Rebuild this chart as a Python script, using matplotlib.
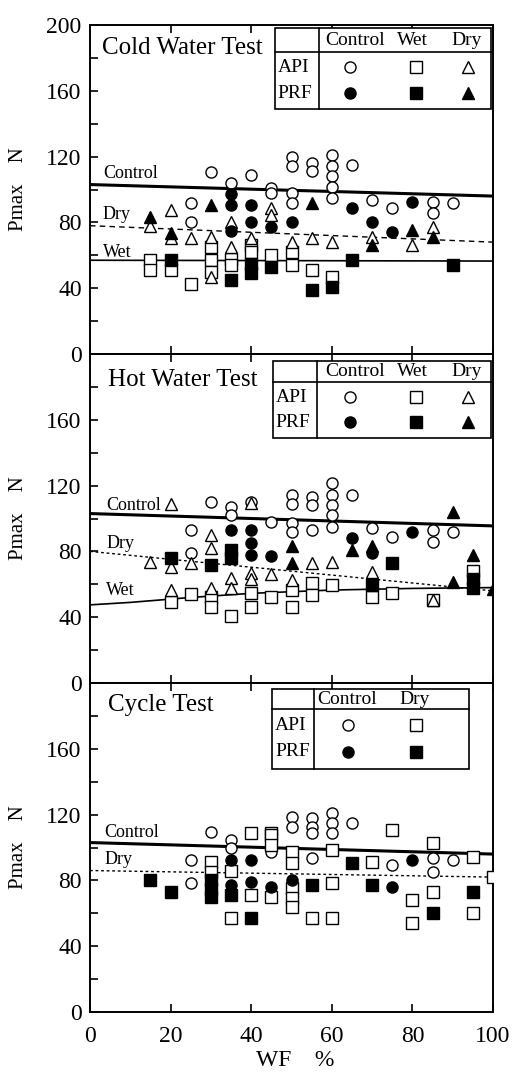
import matplotlib
matplotlib.use('Agg')
import matplotlib.pyplot as plt
import matplotlib as mpl
from matplotlib.patches import Rectangle
from matplotlib.ticker import MultipleLocator

mpl.rcParams['font.family'] = ['Liberation Serif', 'DejaVu Serif']
mpl.rcParams['axes.linewidth'] = 1.4

# ---------------- Cold Water Test ----------------
cold_api_ctrl_x = [25, 25, 30, 35, 40, 45, 45, 50, 50, 50, 50, 55, 55, 60, 60, 60, 60, 60, 65, 70, 75, 85, 85, 90]
cold_api_ctrl_y = [92, 80, 110.5, 104, 109, 101, 98, 120, 114, 98, 92, 116, 111, 121, 114, 108, 101.5, 95, 115, 93.5, 89, 92.5, 86, 92]
cold_prf_ctrl_x = [35, 35, 35, 40, 40, 45, 50, 65, 70, 75, 80]
cold_prf_ctrl_y = [97, 90.5, 75, 90.5, 80, 77, 80, 89, 80, 74, 92.5]
cold_api_wet_x = [15, 15, 20, 25, 30, 30, 30, 35, 35, 40, 40, 45, 50, 50, 55, 60]
cold_api_wet_y = [57, 51, 51, 42.5, 65, 57, 50, 58, 54, 66, 62, 60, 62, 54, 51, 47]
cold_prf_wet_x = [20, 35, 40, 40, 45, 55, 60, 65, 90]
cold_prf_wet_y = [57, 45, 55, 49, 53, 39, 41, 57, 54]
cold_api_dry_x = [15, 20, 20, 25, 30, 30, 35, 35, 40, 45, 45, 50, 55, 60, 70, 80, 85]
cold_api_dry_y = [78, 87.5, 70.5, 70.5, 71, 47, 80, 65, 70.5, 89, 84.5, 68, 70.5, 68, 71, 66, 77]
cold_prf_dry_x = [15, 20, 30, 55, 70, 80, 85]
cold_prf_dry_y = [83, 73.5, 90.5, 92, 66, 75.5, 71]
cold_ctrl_line = ([0, 100], [103, 96])
cold_dry_line = ([0, 100], [78, 68])
cold_wet_line = ([0, 100], [57, 56.5])

# ---------------- Hot Water Test ----------------
hot_api_ctrl_x = [25, 25, 30, 35, 35, 40, 45, 50, 50, 50, 50, 55, 55, 55, 60, 60, 60, 60, 60, 65, 70, 75, 85, 85, 90]
hot_api_ctrl_y = [93, 79, 110, 107, 102, 110, 98, 114, 109, 97.5, 92, 113, 108, 93, 121.5, 114, 108, 102, 95, 114, 94, 89, 93, 86, 92]
hot_prf_ctrl_x = [35, 40, 40, 40, 45, 65, 70, 80]
hot_prf_ctrl_y = [93, 93, 85, 78, 77, 88, 79, 92]
hot_api_wet_x = [20, 25, 30, 30, 35, 40, 40, 45, 50, 50, 55, 55, 60, 70, 75, 85, 95]
hot_api_wet_y = [49, 54, 52, 46, 41, 55, 46, 52, 56.5, 46, 61, 53.5, 59.5, 52, 54.5, 50.5, 68]
hot_prf_wet_x = [20, 30, 35, 35, 70, 75, 95, 95]
hot_prf_wet_y = [76, 71.5, 81, 76, 59.5, 73, 63, 58]
hot_api_dry_x = [15, 20, 20, 20, 25, 30, 30, 30, 35, 35, 40, 40, 40, 45, 50, 55, 60, 70, 85]
hot_api_dry_y = [73.5, 109, 70.5, 56.5, 73, 90, 82, 58, 64, 58, 109.5, 67, 63, 66, 62.5, 73, 73.5, 67.5, 50.5]
hot_prf_dry_x = [50, 50, 65, 70, 90, 90, 95, 100]
hot_prf_dry_y = [83, 73, 81, 83, 104, 61.5, 78, 57]
hot_ctrl_line = ([0, 100], [103, 95.5])
hot_dry_line = ([0, 100], [80, 56])
hot_wet_line = ([0, 10, 25, 40, 60, 80, 100], [47.5, 49, 52, 54.5, 56.5, 57.5, 58])

# ---------------- Cycle Test ----------------
cyc_api_ctrl_x = [25, 25, 30, 35, 35, 45, 50, 50, 55, 55, 55, 55, 60, 60, 60, 65, 75, 85, 85, 90]
cyc_api_ctrl_y = [92.5, 78.5, 109.5, 104.5, 100, 97, 118.5, 112.5, 118, 112.5, 109, 93.5, 121, 115, 109, 115, 89.5, 93.5, 85, 92.5]
cyc_prf_ctrl_x = [35, 35, 40, 40, 45, 50, 75, 80]
cyc_prf_ctrl_y = [92.5, 77, 92.5, 79, 76, 80, 76, 92.5]
cyc_api_dry_x = [30, 30, 35, 35, 40, 40, 45, 45, 45, 45, 50, 50, 50, 50, 50, 55, 60, 60, 60, 70, 75, 80, 80, 85, 85, 95, 95, 100]
cyc_api_dry_y = [91, 85, 86, 57, 109, 71, 109, 107.5, 101.5, 70, 97, 90.5, 75.5, 69, 64, 57, 98.5, 78.5, 57, 91, 110.5, 68, 54, 102.5, 73, 94, 60, 82]
cyc_prf_dry_x = [15, 20, 30, 30, 30, 35, 40, 55, 65, 70, 85, 95]
cyc_prf_dry_y = [80, 73, 80, 75, 70, 71, 57, 77, 90.5, 77, 60, 73]
cyc_ctrl_line = ([0, 100], [103, 96])
cyc_dry_line = ([0, 100], [86, 82])

xticks = [0, 20, 40, 60, 80, 100]
yticks = [0, 40, 80, 120, 160, 200]

ms = 8
mew = 1.0


def scatter(ax, x, y, marker, filled):
    ax.plot(x, y, linestyle='none', marker=marker, markersize=ms, markeredgewidth=mew,
            markeredgecolor='black', markerfacecolor='black' if filled else 'white', zorder=3)


def draw_table(ax, x0, x1, y0, y1, yh, xd, headers, hx, markers, mx):
    ax.add_patch(Rectangle((x0, y0), x1 - x0, y1 - y0, facecolor='white', edgecolor='black',
                           lw=1.2, zorder=5, clip_on=False))
    ax.plot([x0, x1], [yh, yh], color='black', lw=1.2, zorder=6, clip_on=False)
    ax.plot([xd, xd], [y0, y1], color='black', lw=1.2, zorder=6, clip_on=False)
    for h, x in zip(headers, hx):
        ax.text(x, (yh + y1) / 2, h, ha='center', va='center', fontsize=14, zorder=7)
    ry = [yh - (yh - y0) * 0.27, yh - (yh - y0) * 0.72]
    ax.text(x0 + 0.7, ry[0], 'API', ha='left', va='center', fontsize=14, zorder=7)
    ax.text(x0 + 0.7, ry[1], 'PRF', ha='left', va='center', fontsize=14, zorder=7)
    for m, x in zip(markers, mx):
        ax.plot([x], [ry[0]], marker=m, markersize=ms, markeredgewidth=mew, markeredgecolor='black',
                markerfacecolor='white', linestyle='none', zorder=7, clip_on=False)
        ax.plot([x], [ry[1]], marker=m, markersize=ms, markeredgewidth=mew, markeredgecolor='black',
                markerfacecolor='black', linestyle='none', zorder=7, clip_on=False)


def setup_axes(ax, show_x, show_200):
    ax.set_xlim(0, 100)
    ax.set_ylim(0, 200)
    ax.set_xticks(xticks)
    ax.set_yticks(yticks)
    ax.set_yticklabels([str(t) if (t != 200 or show_200) else '' for t in yticks])
    ax.yaxis.set_minor_locator(MultipleLocator(20))
    ax.tick_params(which='both', direction='in', top=True, bottom=True, left=True, right=False,
                   length=6, width=1.2, labelsize=17)
    ax.tick_params(axis='y', pad=6)
    ax.tick_params(axis='x', pad=10, labelbottom=show_x)
    ax.set_ylabel('Pmax    N', fontsize=15)
    ax.yaxis.set_label_coords(-0.155, 0.5)


fig = plt.figure(figsize=(5.12, 10.74), dpi=100)
left, width = 90 / 512, 403 / 512
h = 329 / 1074
ax1 = fig.add_axes([left, 1 - 354 / 1074, width, h])
ax2 = fig.add_axes([left, 1 - 683 / 1074, width, h])
ax3 = fig.add_axes([left, 1 - 1012 / 1074, width, h])

# panel 1
ax = ax1
ax.plot(*cold_ctrl_line, color='black', lw=2.2, zorder=1)
ax.plot(*cold_dry_line, color='black', lw=1.0, ls=(0, (4, 3)), zorder=1)
ax.plot(*cold_wet_line, color='black', lw=1.2, zorder=1)
scatter(ax, cold_api_ctrl_x, cold_api_ctrl_y, 'o', False)
scatter(ax, cold_api_wet_x, cold_api_wet_y, 's', False)
scatter(ax, cold_api_dry_x, cold_api_dry_y, '^', False)
scatter(ax, cold_prf_ctrl_x, cold_prf_ctrl_y, 'o', True)
scatter(ax, cold_prf_wet_x, cold_prf_wet_y, 's', True)
scatter(ax, cold_prf_dry_x, cold_prf_dry_y, '^', True)
ax.text(3, 186, 'Cold Water Test', fontsize=18, va='center', ha='left')
ax.text(3.2, 109.5, 'Control', fontsize=13, va='center')
ax.text(3.2, 84.5, 'Dry', fontsize=13, va='center')
ax.text(3.2, 62, 'Wet', fontsize=13, va='center')
draw_table(ax, 45.9, 99.5, 149, 198, 183.5, 56.8, ['Control', 'Wet', 'Dry'], [65.8, 80.1, 93.5],
           ['o', 's', '^'], [64.5, 81, 93.8])
setup_axes(ax, False, True)

# panel 2
ax = ax2
ax.plot(*hot_ctrl_line, color='black', lw=2.2, zorder=1)
ax.plot(*hot_dry_line, color='black', lw=1.0, ls=(0, (2, 2)), zorder=1)
ax.plot(*hot_wet_line, color='black', lw=1.2, zorder=1)
scatter(ax, hot_api_ctrl_x, hot_api_ctrl_y, 'o', False)
scatter(ax, hot_api_wet_x, hot_api_wet_y, 's', False)
scatter(ax, hot_api_dry_x, hot_api_dry_y, '^', False)
scatter(ax, hot_prf_ctrl_x, hot_prf_ctrl_y, 'o', True)
scatter(ax, hot_prf_wet_x, hot_prf_wet_y, 's', True)
scatter(ax, hot_prf_dry_x, hot_prf_dry_y, '^', True)
ax.text(4.5, 184, 'Hot Water Test', fontsize=18, va='center', ha='left')
ax.text(4, 108, 'Control', fontsize=13, va='center')
ax.text(4, 85, 'Dry', fontsize=13, va='center')
ax.text(4, 56.5, 'Wet', fontsize=13, va='center')
draw_table(ax, 45.4, 99.5, 149, 196, 183, 56.3, ['Control', 'Wet', 'Dry'], [65.8, 80.1, 93.5],
           ['o', 's', '^'], [64.5, 81, 93.8])
setup_axes(ax, False, False)

# panel 3
ax = ax3
ax.plot(*cyc_ctrl_line, color='black', lw=2.2, zorder=1)
ax.plot(*cyc_dry_line, color='black', lw=1.0, ls=(0, (2, 2)), zorder=1)
scatter(ax, cyc_api_ctrl_x, cyc_api_ctrl_y, 'o', False)
scatter(ax, cyc_api_dry_x, cyc_api_dry_y, 's', False)
scatter(ax, cyc_prf_ctrl_x, cyc_prf_ctrl_y, 'o', True)
scatter(ax, cyc_prf_dry_x, cyc_prf_dry_y, 's', True)
ax.text(4.5, 186.5, 'Cycle Test', fontsize=18, va='center', ha='left')
ax.text(3.5, 109, 'Control', fontsize=13, va='center')
ax.text(3.5, 92.5, 'Dry', fontsize=13, va='center')
draw_table(ax, 45.2, 94, 148, 196.5, 184, 55.6, ['Control', 'Dry'], [63.8, 80.5],
           ['o', 's'], [64, 81])
setup_axes(ax, True, False)
ax.set_xlabel('WF    %', fontsize=17)
ax.xaxis.set_label_coords(0.51, -0.115)

fig.savefig('out.png', dpi=100)
